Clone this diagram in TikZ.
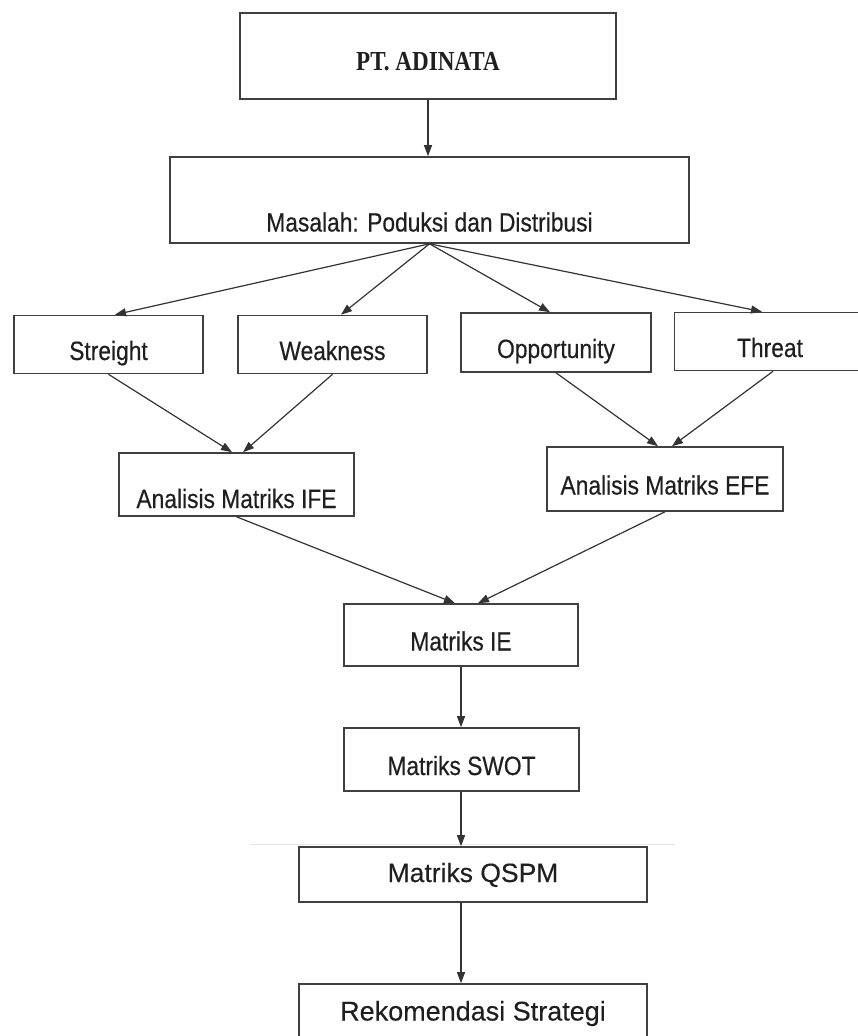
\documentclass[tikz,border=0pt]{standalone}
\usepackage{fontspec}
\setmainfont{Liberation Sans}
\newfontfamily\sempit[FakeStretch=0.86,FakeBold=0.4]{Liberation Sans}
\newfontfamily\lebar[FakeBold=0.3]{Liberation Sans}
\newfontfamily\judul[FakeStretch=0.84]{Liberation Serif}
\usetikzlibrary{arrows.meta}

\begin{document}
\begin{tikzpicture}[x=1pt, y=-1pt,
    kotak/.style={draw=black!75, line width=1.6pt, inner sep=0pt, text=black!88,
        font=\sempit\fontsize{26.5}{30}\selectfont, text height=35pt, text depth=4pt},
    panah/.style={draw=black!80, line width=1.2pt, -{Triangle[length=11pt,width=8pt]}}]
    % Bingkai gambar
    \useasboundingbox (0,0) rectangle (857,1036);

    % Kotak utama
    \node[kotak, minimum width=376pt, minimum height=86pt,
        font=\judul\bfseries\fontsize{27.5}{30}\selectfont, text height=29pt, text depth=0pt]
        (pt) at (428,56) {PT. ADINATA};
    \node[kotak, minimum width=519pt, minimum height=86pt, text height=67pt]
        (masalah) at (429.5,200) {Masalah: Poduksi dan Distribusi};

    % Faktor SWOT
    \node[kotak, minimum width=189pt, minimum height=58pt] (streight) at (108.5,344.5) {Streight};
    \node[kotak, minimum width=189pt, minimum height=58pt] (weakness) at (332.5,344.5) {Weakness};
    \node[kotak, minimum width=190pt, minimum height=59pt] (opportunity) at (556,342.5) {Opportunity};
    \node[kotak, minimum width=191pt, minimum height=58pt] (threat) at (770,341.5) {Threat};

    % Analisis matriks
    \node[kotak, minimum width=235pt, minimum height=63pt, text height=51pt]
        (ife) at (236.5,484.5) {Analisis Matriks IFE};
    \node[kotak, minimum width=236pt, minimum height=64pt] (efe) at (665,479) {Analisis Matriks EFE};

    % Tahap lanjut
    \node[kotak, minimum width=234pt, minimum height=62pt] (ie) at (461,635) {Matriks IE};
    \node[kotak, minimum width=235pt, minimum height=63pt] (swot) at (461.5,759.5) {Matriks SWOT};
    \node[kotak, minimum width=348pt, minimum height=55pt,
        font=\lebar\fontsize{26.5}{30}\selectfont, text height=19pt] (qspm) at (473,874.5) {Matriks QSPM};
    \node[kotak, minimum width=348pt, minimum height=60pt,
        font=\lebar\fontsize{27}{30}\selectfont, text height=17pt] (rekom) at (473,1014) {Rekomendasi Strategi};

    % Garis tipis di atas QSPM
    \draw[black!10, line width=0.8pt] (250,844) -- (675,844);

    % Panah
    \draw[panah] (pt.south) -- (pt.south |- masalah.north);
    \foreach \t/\s in {streight/6.5pt, weakness/8.5pt, opportunity/-6pt, threat/-8pt}
        \draw[panah] (masalah.south) -- ([xshift=\s]\t.north);

    \draw[panah] (streight.south) -- ([xshift=-4.5pt]ife.north);
    \draw[panah] (weakness.south) -- ([xshift=6.5pt]ife.north);
    \draw[panah] (opportunity.south) -- ([xshift=-7pt]efe.north);
    \draw[panah] ([xshift=3pt]threat.south) -- ([xshift=7pt]efe.north);

    \draw[panah] (ife.south) -- ([xshift=-6pt]ie.north);
    \draw[panah] (efe.south) -- ([xshift=17pt]ie.north);

    \foreach \a/\b in {ie/swot, swot/qspm, qspm/rekom}
        \draw[panah] (ie.south |- \a.south) -- (ie.south |- \b.north);
\end{tikzpicture}
\end{document}
